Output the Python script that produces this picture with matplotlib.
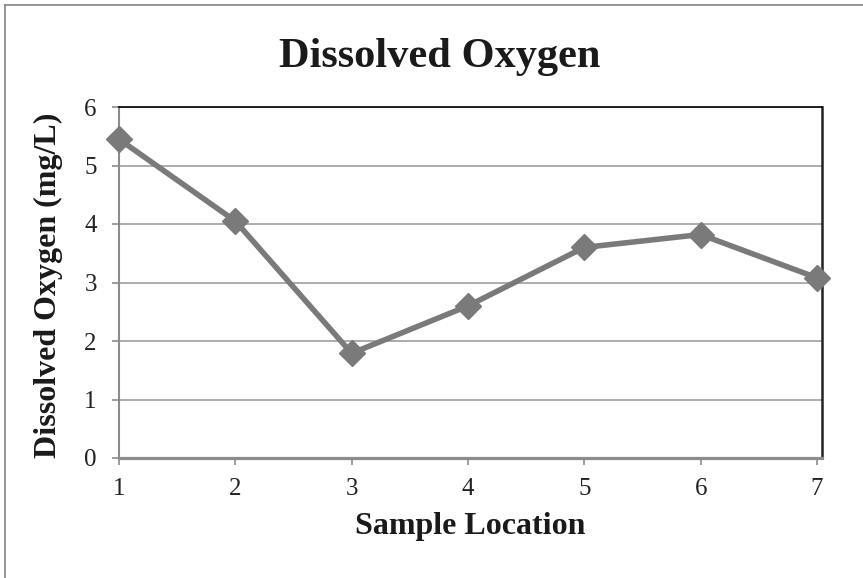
import matplotlib.pyplot as plt
from matplotlib.lines import Line2D

# Dissolved oxygen readings at each sampling point
locations = [1, 2, 3, 4, 5, 6, 7]
oxygen = [5.45, 4.05, 1.79, 2.6, 3.6, 3.82, 3.08]
y_ticks = [0, 1, 2, 3, 4, 5, 6]

plt.rcParams['font.family'] = ['Liberation Serif', 'DejaVu Serif']

W, H = 863, 578
fig = plt.figure(figsize=(W / 100, H / 100), dpi=100)
ax = fig.add_axes([119 / W, 1 - 458 / H, (822 - 119) / W, (458 - 107) / H])

# outer chart frame: top and left edges only
fig.lines.append(Line2D([4.5 / W, 4.5 / W], [0, 1 - 4.5 / H], transform=fig.transFigure,
                        color='#8c8c8c', linewidth=1.3))
fig.lines.append(Line2D([4.5 / W, 1], [1 - 4.5 / H, 1 - 4.5 / H], transform=fig.transFigure,
                        color='#8c8c8c', linewidth=1.3))

ax.plot(locations, oxygen, color='#7a7a7a', linewidth=4, marker='D',
        markersize=13, markerfacecolor='#7a7a7a', markeredgecolor='#7a7a7a',
        clip_on=False, zorder=3)

ax.set_xlim(1, 7.043)
ax.set_ylim(0, 6)
ax.set_xticks(locations)
ax.set_yticks(y_ticks)
ax.grid(axis='y', color='#a6a6a6', linewidth=1.3)
ax.set_axisbelow(True)

ax.spines['top'].set_color('black')
ax.spines['right'].set_color('#222222')
ax.spines['top'].set_linewidth(1.2)
ax.spines['right'].set_linewidth(1.8)
ax.spines['left'].set_color('#8c8c8c')
ax.spines['left'].set_linewidth(1.5)
ax.spines['bottom'].set_color('#8c8c8c')
ax.spines['bottom'].set_linewidth(2.3)

ax.tick_params(axis='y', direction='out', length=5, width=1.2, color='#8c8c8c',
               labelsize=18, pad=11, labelcolor='#222222')
ax.tick_params(axis='x', direction='out', length=5, width=1.2, color='#8c8c8c',
               labelsize=18, pad=9.5, labelcolor='#222222')

fig.text(440 / W, 1 - 67 / H, 'Dissolved Oxygen', fontsize=30.5, fontweight='bold',
         ha='center', va='baseline', color='#1a1a1a')
fig.text(470 / W, 1 - 534 / H, 'Sample Location', fontsize=23, fontweight='bold',
         ha='center', va='baseline', color='#1a1a1a')
fig.text(48 / W, 1 - 285 / H, 'Dissolved Oxygen (mg/L)', fontsize=23, fontweight='bold',
         ha='center', va='center', rotation=90, color='#1a1a1a')

fig.savefig('out.png', dpi=100)
